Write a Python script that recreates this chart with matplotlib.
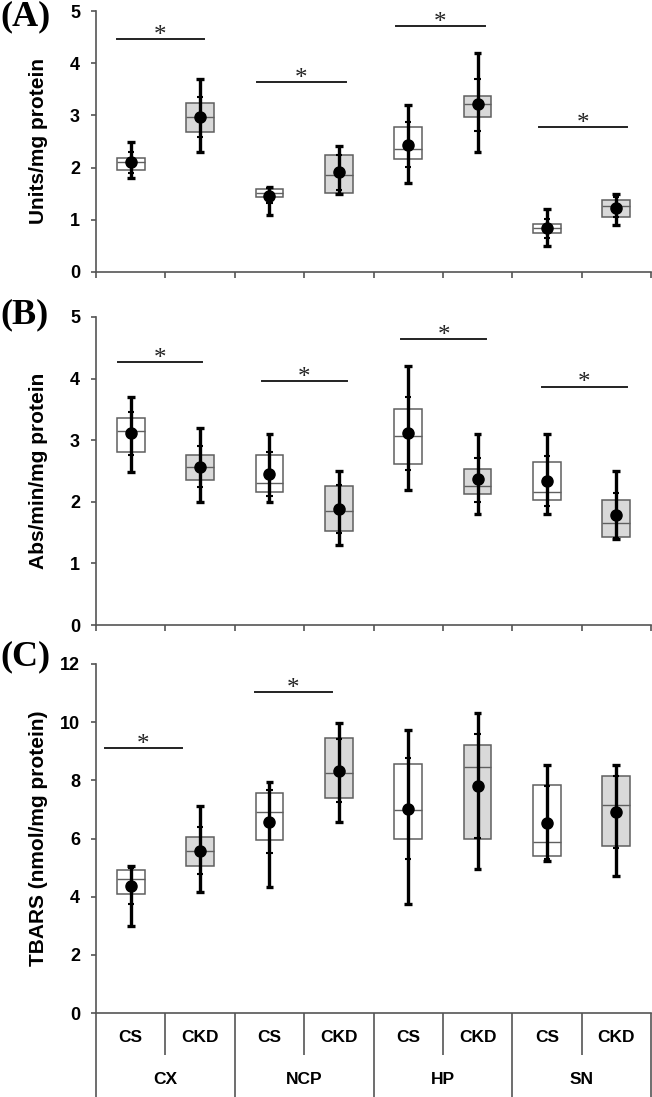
import matplotlib
matplotlib.use("Agg")
import matplotlib.pyplot as plt
import numpy as np

plt.rcParams['font.family'] = ['Liberation Sans', 'DejaVu Sans']

groups = ["CX", "NCP", "HP", "SN"]
conds = ["CS", "CKD"]
fills = ["white", "#d9d9d9"] * 4

# panel A (units/mg protein)
a_q1 = [1.96, 2.69, 1.44, 1.52, 2.16, 2.96, 0.74, 1.06]
a_med = [2.10, 2.96, 1.52, 1.86, 2.36, 3.21, 0.85, 1.27]
a_q3 = [2.18, 3.23, 1.59, 2.25, 2.78, 3.38, 0.92, 1.38]
a_wlo = [1.80, 2.30, 1.10, 1.50, 1.71, 2.30, 0.50, 0.90]
a_whi = [2.50, 3.70, 1.62, 2.41, 3.20, 4.20, 1.20, 1.50]
a_mean = [2.10, 2.96, 1.46, 1.91, 2.44, 3.21, 0.85, 1.23]
a_sdlo = [1.90, 2.58, 1.33, 1.58, 2.02, 2.71, 0.66, 1.05]
a_sdhi = [2.30, 3.36, 1.60, 2.25, 2.88, 3.70, 1.02, 1.43]
a_sig = [(0.80, 2.06, 4.46), (2.82, 4.10, 3.64), (4.82, 6.11, 4.71), (6.89, 8.15, 2.78)]

# panel B (abs/min/mg protein)
b_q1 = [2.81, 2.35, 2.16, 1.53, 2.61, 2.13, 2.03, 1.43]
b_med = [3.15, 2.56, 2.30, 1.85, 3.07, 2.25, 2.16, 1.66]
b_q3 = [3.36, 2.76, 2.76, 2.25, 3.50, 2.53, 2.65, 2.03]
b_wlo = [2.48, 2.00, 2.00, 1.30, 2.19, 1.80, 1.80, 1.40]
b_whi = [3.70, 3.20, 3.10, 2.50, 4.20, 3.10, 3.10, 2.50]
b_mean = [3.12, 2.57, 2.45, 1.88, 3.11, 2.37, 2.34, 1.79]
b_sdlo = [2.76, 2.24, 2.09, 1.49, 2.52, 2.00, 1.93, 1.42]
b_sdhi = [3.46, 2.90, 2.81, 2.27, 3.70, 2.71, 2.74, 2.15]
b_sig = [(0.82, 2.03, 4.27), (2.89, 4.12, 3.96), (4.90, 6.12, 4.64), (6.93, 8.15, 3.87)]

# panel C (TBARS)
c_q1 = [4.09, 5.06, 5.95, 7.39, 5.98, 5.98, 5.40, 5.74]
c_med = [4.60, 5.57, 6.91, 8.25, 6.98, 8.46, 5.88, 7.15]
c_q3 = [4.92, 6.05, 7.57, 9.46, 8.56, 9.22, 7.84, 8.15]
c_wlo = [2.99, 4.16, 4.33, 6.57, 3.75, 4.95, 5.23, 4.71]
c_whi = [5.05, 7.12, 7.94, 9.97, 9.73, 10.32, 8.53, 8.53]
c_mean = [4.37, 5.57, 6.57, 8.32, 7.01, 7.81, 6.53, 6.91]
c_sdlo = [3.75, 4.78, 5.50, 7.26, 5.30, 6.02, 5.30, 5.67]
c_sdhi = [5.00, 6.40, 7.67, 9.42, 8.77, 9.59, 7.81, 8.15]
c_sig = [(0.63, 1.74, 9.11), (2.79, 3.90, 11.04)]

W, H = 652, 1097
fig = plt.figure(figsize=(W / 100, H / 100), dpi=100)
gray = '#555555'

def make_axes(top, bottom):
    return fig.add_axes([96 / W, 1 - bottom / H, 555 / W, (bottom - top) / H])

def draw_panel(ax, q1, med, q3, wlo, whi, mean, sdlo, sdhi, sig):
    xs = np.arange(1, 9)
    q1, med, q3 = np.array(q1), np.array(med), np.array(q3)
    ax.bar(xs, q3 - q1, bottom=q1, width=0.4, color=fills, edgecolor='#5f5f5f', lw=1.1, zorder=2)
    ax.hlines(med, xs - 0.2, xs + 0.2, color='#5f5f5f', lw=1.0, zorder=3)
    ax.vlines(xs, wlo, whi, color='black', lw=2.4, zorder=4)
    ax.hlines(wlo, xs - 0.055, xs + 0.055, color='black', lw=2.4, zorder=4)
    ax.hlines(whi, xs - 0.055, xs + 0.055, color='black', lw=2.4, zorder=4)
    ax.hlines(sdlo, xs - 0.045, xs + 0.045, color='black', lw=1.5, zorder=4)
    ax.hlines(sdhi, xs - 0.045, xs + 0.045, color='black', lw=1.5, zorder=4)
    ax.plot(xs, mean, 'o', color='black', ms=8, zorder=5)
    for x0, x1, y in sig:
        ax.plot([x0, x1], [y, y], color='#222222', lw=1.4)
        ax.annotate('*', ((x0 + x1) / 2, y), xytext=(0, -2), textcoords='offset points',
                    ha='center', va='baseline', fontsize=18, family='Liberation Serif',
                    color='#222222')
    ax.set_xlim(0.5, 8.5)
    for s in ['top', 'right']:
        ax.spines[s].set_visible(False)
    for s in ['left', 'bottom']:
        ax.spines[s].set_color(gray)
        ax.spines[s].set_linewidth(1.2)
    ax.tick_params(axis='y', direction='out', length=3.5, width=1.2, color=gray,
                   labelsize=13, pad=8)

def panel_label(ax, txt, ylab, yc):
    for lab in ax.get_yticklabels():
        lab.set_fontweight('bold')
    ax.text(-0.103, 0.5, ylab, transform=ax.transAxes, rotation=90, ha='center', va='center',
            fontsize=15, fontweight='bold')
    fig.text(0.0, 1 - yc / H, txt, ha='left', va='center', fontsize=26, fontweight='bold',
             family='Liberation Serif')

axA = make_axes(11, 272)
draw_panel(axA, a_q1, a_med, a_q3, a_wlo, a_whi, a_mean, a_sdlo, a_sdhi, a_sig)
axA.set_ylim(0, 5)
axA.set_yticks(range(0, 6))
panel_label(axA, "(A)", "Units/mg protein", 17)

axB = make_axes(317, 625)
draw_panel(axB, b_q1, b_med, b_q3, b_wlo, b_whi, b_mean, b_sdlo, b_sdhi, b_sig)
axB.set_ylim(0, 5)
axB.set_yticks(range(0, 6))
panel_label(axB, "(B)", "Abs/min/mg protein", 315)

for ax in (axA, axB):
    ax.set_xticks(np.arange(0.5, 9, 1.0))
    ax.set_xticklabels([])
    ax.tick_params(axis='x', direction='out', length=4.5, width=1.2, color=gray)
    for t in ax.xaxis.get_major_ticks():
        t.tick1line.set_clip_on(False)

axC = make_axes(664, 1013)
draw_panel(axC, c_q1, c_med, c_q3, c_wlo, c_whi, c_mean, c_sdlo, c_sdhi, c_sig)
axC.set_ylim(0, 12)
axC.set_yticks(range(0, 13, 2))
panel_label(axC, "(C)", "TBARS (nmol/mg protein)", 657)

# category table under panel C
axC.set_xticks([])
hC = 1013 - 664
tr = axC.get_xaxis_transform()
axC.vlines(np.arange(1.5, 8.5, 2.0), 0, -42 / hC, transform=tr, color=gray, lw=1.2, clip_on=False)
axC.vlines(np.arange(0.5, 9.0, 2.0), 0, -90 / hC, transform=tr, color=gray, lw=1.2, clip_on=False)
for i in range(8):
    axC.text(i + 1, -24 / hC, conds[i % 2], transform=tr, ha='center', va='center',
             fontsize=12.5, fontweight='bold')
for i, g in enumerate(groups):
    axC.text(2 * i + 1.5, -66 / hC, g, transform=tr, ha='center', va='center',
             fontsize=12.5, fontweight='bold')

fig.savefig('out.png', dpi=100)
